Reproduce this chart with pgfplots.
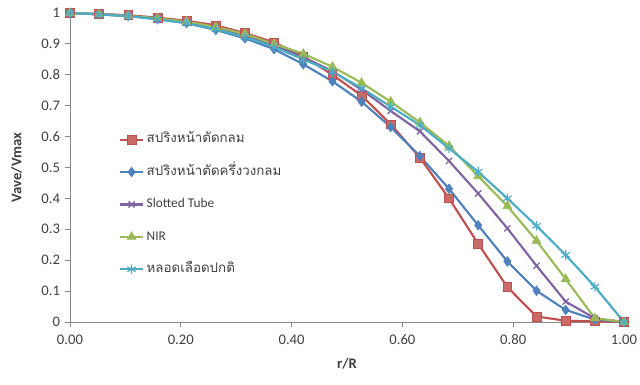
\documentclass[border=0pt]{standalone}
\usepackage{fontspec}
\setmainfont{Carlito}
\newfontfamily\thaifont[Script=Thai]{Loma}
\usepackage{pgfplots}
\pgfplotsset{compat=1.18}
\usetikzlibrary{plotmarks}
\definecolor{cred}{HTML}{C0504D}
\definecolor{cblue}{HTML}{4F81BD}
\definecolor{cpurple}{HTML}{8064A2}
\definecolor{cgreen}{HTML}{9BBB59}
\definecolor{ccyan}{HTML}{4BACC6}
\definecolor{axgray}{HTML}{868686}
\definecolor{txt}{HTML}{404040}
\begin{document}
\begin{tikzpicture}
\path[use as bounding box] (-52.5pt,-47.25pt) rectangle (427.5pt,241.5pt);
\begin{axis}[
  at={(0,0)}, anchor=south west,
  scale only axis, width=415.5pt, height=231.75pt,
  xmin=0, xmax=1, ymin=0, ymax=1,
  axis x line*=bottom, axis y line*=left,
  axis line style={axgray, line width=0.6pt},
  tick style={axgray, line width=0.6pt},
  tick align=outside, major tick length=4pt,
  xtick={0,0.2,0.4,0.6,0.8,1},
  ytick={0,0.1,0.2,0.3,0.4,0.5,0.6,0.7,0.8,0.9,1},
  xticklabel style={yshift=-2pt, /pgf/number format/.cd, fixed, fixed zerofill, precision=2, assume math mode=true},
  yticklabel style={/pgf/number format/.cd, fixed, precision=1, assume math mode=true},
  ticklabel style={font=\fontsize{11}{13}\selectfont, text=txt},
  xlabel={\textbf{r/R}}, ylabel={\textbf{Vave/Vmax}},
  every axis x label/.style={at={(axis description cs:0.5,0)}, anchor=center, yshift=-31pt, font=\fontsize{11}{13}\selectfont, text=txt},
  every axis y label/.style={at={(axis description cs:0,0.5)}, xshift=-40pt, anchor=center, rotate=90, font=\fontsize{11}{13}\selectfont, text=txt},
  legend style={at={(axis description cs:0.081,0.632)}, anchor=north west, draw=none, fill=none,
    font=\fontsize{10}{12}\selectfont, text=txt, row sep=9.3pt, legend cell align=left,
    nodes={text height=8pt, text depth=3pt}},
  every axis plot/.append style={line width=1.6pt},
  clip=false,
]
\addplot[cred, mark=square*, mark size=3.3pt, mark options={fill=cred!85!white, line width=0.5pt}] coordinates {
(0,1) (0.0526,0.997) (0.1053,0.993) (0.1579,0.985) (0.2105,0.975) (0.2632,0.960) (0.3158,0.935) (0.3684,0.905) (0.4211,0.860) (0.4737,0.800) (0.5263,0.733) (0.5789,0.640) (0.6316,0.532) (0.6842,0.400) (0.7368,0.253) (0.7895,0.113) (0.8421,0.018) (0.8947,0.004) (0.9474,0.002) (1,0)};
\addlegendentry{\thaifont สปริงหน้าตัดกลม}
\addplot[cblue, mark=diamond*, mark size=3.6pt, mark options={line width=0.5pt}] coordinates {
(0,1) (0.0526,0.996) (0.1053,0.990) (0.1579,0.980) (0.2105,0.967) (0.2632,0.945) (0.3158,0.918) (0.3684,0.883) (0.4211,0.834) (0.4737,0.779) (0.5263,0.713) (0.5789,0.631) (0.6316,0.537) (0.6842,0.431) (0.7368,0.313) (0.7895,0.196) (0.8421,0.101) (0.8947,0.039) (0.9474,0.008) (1,0)};
\addlegendentry{\thaifont สปริงหน้าตัดครึ่งวงกลม}
\addplot[cpurple, mark=x, mark size=3.3pt, mark options={line width=1pt}] coordinates {
(0,1) (0.0526,0.996) (0.1053,0.990) (0.1579,0.982) (0.2105,0.970) (0.2632,0.952) (0.3158,0.928) (0.3684,0.896) (0.4211,0.857) (0.4737,0.812) (0.5263,0.752) (0.5789,0.683) (0.6316,0.617) (0.6842,0.521) (0.7368,0.416) (0.7895,0.303) (0.8421,0.182) (0.8947,0.066) (0.9474,0.012) (1,0)};
\addlegendentry{Slotted Tube}
\addplot[cgreen, mark=triangle*, mark size=3.8pt, mark options={line width=0.5pt}] coordinates {
(0,1) (0.0526,0.996) (0.1053,0.991) (0.1579,0.983) (0.2105,0.972) (0.2632,0.955) (0.3158,0.932) (0.3684,0.900) (0.4211,0.868) (0.4737,0.826) (0.5263,0.774) (0.5789,0.713) (0.6316,0.646) (0.6842,0.570) (0.7368,0.472) (0.7895,0.375) (0.8421,0.263) (0.8947,0.139) (0.9474,0.012) (1,0)};
\addlegendentry{NIR}
\addplot[ccyan, mark=asterisk, mark size=3.6pt, mark options={line width=0.9pt}] coordinates {
(0,1) (0.0526,0.995) (0.1053,0.990) (0.1579,0.980) (0.2105,0.967) (0.2632,0.947) (0.3158,0.922) (0.3684,0.890) (0.4211,0.850) (0.4737,0.810) (0.5263,0.757) (0.5789,0.697) (0.6316,0.637) (0.6842,0.562) (0.7368,0.486) (0.7895,0.400) (0.8421,0.311) (0.8947,0.217) (0.9474,0.114) (1,0)};
\addlegendentry{\thaifont หลอดเลือดปกติ}
\end{axis}
\end{tikzpicture}
\end{document}
